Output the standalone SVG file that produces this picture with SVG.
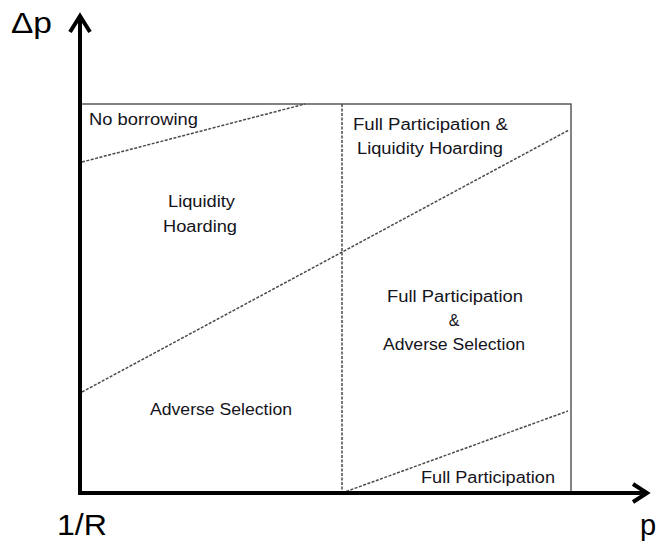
<svg xmlns="http://www.w3.org/2000/svg" width="657" height="544" viewBox="0 0 657 544">
<style>
.axis{stroke:#000;stroke-width:4;fill:none;stroke-linecap:butt}
.box{stroke:#404040;stroke-width:1.3;fill:none}
.dash{stroke:#4a4a4a;stroke-width:1.5;stroke-dasharray:3,1.5;fill:none}
.lbl{font-family:"Liberation Sans",Arial,sans-serif;font-size:16px;fill:#141420}
.big{font-family:"Liberation Sans",Arial,sans-serif;font-size:29px;fill:#000}
</style>
<rect width="657" height="544" fill="#fff"/>
<g id="box"><rect class="box" x="80" y="104" width="491" height="389"/></g>
<g id="connectors">
<line class="dash" x1="342" y1="104" x2="342" y2="493"/>
<line class="dash" x1="82" y1="162" x2="305" y2="104"/>
<line class="dash" x1="82" y1="392" x2="569" y2="130"/>
<line class="dash" x1="342" y1="493" x2="568" y2="411"/>
</g>
<g id="axes">
<line class="axis" x1="80" y1="495" x2="80" y2="16"/>
<polyline class="axis" points="70,32 80,16 90,32"/>
<line class="axis" x1="78" y1="493" x2="646" y2="493"/>
<polyline class="axis" points="633,484 647,493 633,502"/>
</g>
<g id="labels">
<text class="big" x="11" y="33" textLength="41" lengthAdjust="spacingAndGlyphs">Δp</text>
<text class="big" x="57" y="535" textLength="50" lengthAdjust="spacingAndGlyphs">1/R</text>
<text class="big" x="640" y="535">p</text>
</g>
<g id="no-borrowing"><text class="lbl" x="89" y="125" textLength="109" lengthAdjust="spacingAndGlyphs">No borrowing</text></g>
<g id="liquidity-hoarding">
<text class="lbl" x="168" y="207" textLength="67" lengthAdjust="spacingAndGlyphs">Liquidity</text>
<text class="lbl" x="163" y="232" textLength="74" lengthAdjust="spacingAndGlyphs">Hoarding</text>
</g>
<g id="fp-lh">
<text class="lbl" x="353" y="130" textLength="155" lengthAdjust="spacingAndGlyphs">Full Participation &amp;</text>
<text class="lbl" x="357" y="154" textLength="146" lengthAdjust="spacingAndGlyphs">Liquidity Hoarding</text>
</g>
<g id="adverse-selection"><text class="lbl" x="150" y="415" textLength="142" lengthAdjust="spacingAndGlyphs">Adverse Selection</text></g>
<g id="fp-as">
<text class="lbl" x="387" y="302" textLength="136" lengthAdjust="spacingAndGlyphs">Full Participation</text>
<text class="lbl" x="454" y="326" text-anchor="middle">&amp;</text>
<text class="lbl" x="383" y="350" textLength="142" lengthAdjust="spacingAndGlyphs">Adverse Selection</text>
</g>
<g id="full-participation"><text class="lbl" x="421" y="483" textLength="134" lengthAdjust="spacingAndGlyphs">Full Participation</text></g>
</svg>
